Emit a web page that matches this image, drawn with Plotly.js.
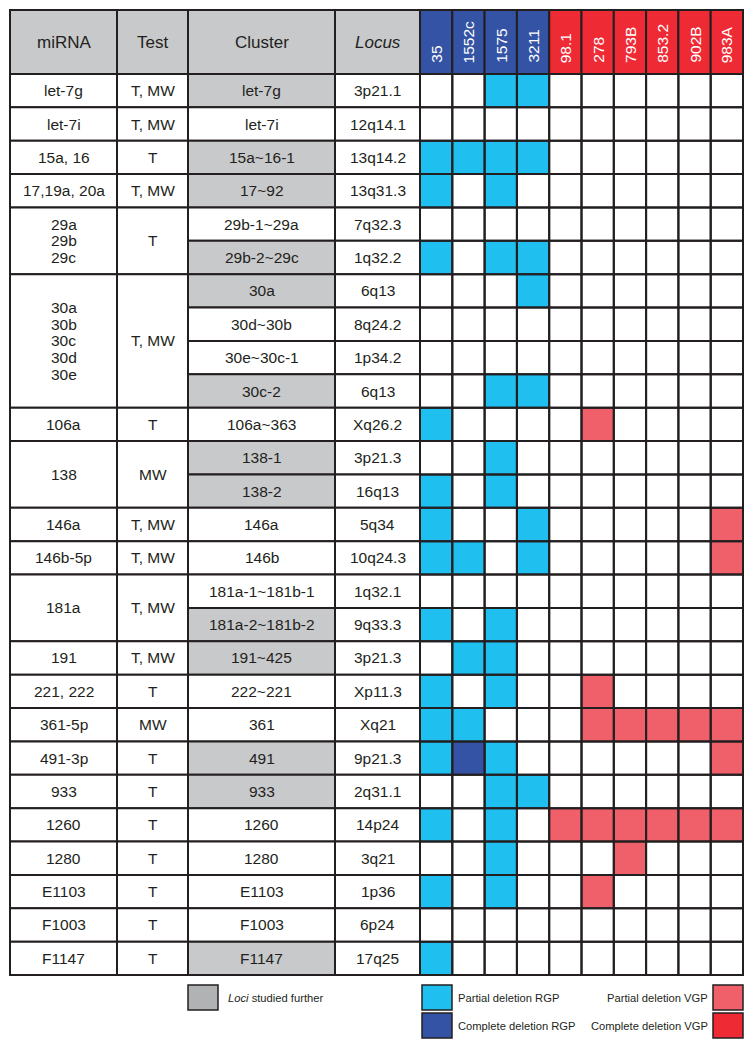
<!DOCTYPE html>
<html><head><meta charset="utf-8">
<script src="https://cdn.plot.ly/plotly-3.0.1.min.js"></script>
<style>html,body{margin:0;padding:0;background:#fff}#chart{width:754px;height:1048px}</style>
</head><body><div id="chart"></div>
<script>
// ---------------- data ----------------
const samples = ['35','1552c','1575','3211','98.1','278','793B','853.2','902B','983A'];
const sampleGroup = ['RGP','RGP','RGP','RGP','VGP','VGP','VGP','VGP','VGP','VGP'];
const headers = ['miRNA','Test','Cluster','<i>Locus</i>'];
const clusters = ['let-7g','let-7i','15a~16-1','17~92','29b-1~29a','29b-2~29c','30a','30d~30b','30e~30c-1','30c-2','106a~363','138-1','138-2','146a','146b','181a-1~181b-1','181a-2~181b-2','191~425','222~221','361','491','933','1260','1280','E1103','F1003','F1147'];
const loci = ['3p21.1','12q14.1','13q14.2','13q31.3','7q32.3','1q32.2','6q13','8q24.2','1p34.2','6q13','Xq26.2','3p21.3','16q13','5q34','10q24.3','1q32.1','9q33.3','3p21.3','Xp11.3','Xq21','9p21.3','2q31.1','14p24','3q21','1p36','6p24','17q25'];
const studiedFurther = [1,0,1,1,0,1,1,0,0,1,0,1,1,0,0,0,1,1,0,0,1,1,0,0,0,0,1];
const mirnaNames = [['let-7g'],['let-7i'],['15a, 16'],['17,19a, 20a'],['29a','29b','29c'],['30a','30b','30c','30d','30e'],['106a'],['138'],['146a'],['146b-5p'],['181a'],['191'],['221, 222'],['361-5p'],['491-3p'],['933'],['1260'],['1280'],['E1103'],['F1003'],['F1147']];
const mirnaRows = [1,1,1,1,2,4,1,2,1,1,2,1,1,1,1,1,1,1,1,1,1];
const tests = ['T, MW','T, MW','T','T, MW','T','T, MW','T','MW','T, MW','T, MW','T, MW','T, MW','T','MW','T','T','T','T','T','T','T'];
// 0 = no deletion, 1 = partial deletion, 2 = complete deletion
const deletion = [
 [0,0,1,1,0,0,0,0,0,0],
 [0,0,0,0,0,0,0,0,0,0],
 [1,1,1,1,0,0,0,0,0,0],
 [1,0,1,0,0,0,0,0,0,0],
 [0,0,0,0,0,0,0,0,0,0],
 [1,0,1,1,0,0,0,0,0,0],
 [0,0,0,1,0,0,0,0,0,0],
 [0,0,0,0,0,0,0,0,0,0],
 [0,0,0,0,0,0,0,0,0,0],
 [0,0,1,1,0,0,0,0,0,0],
 [1,0,0,0,0,1,0,0,0,0],
 [0,0,1,0,0,0,0,0,0,0],
 [1,0,1,0,0,0,0,0,0,0],
 [1,0,0,1,0,0,0,0,0,1],
 [1,1,0,1,0,0,0,0,0,1],
 [0,0,0,0,0,0,0,0,0,0],
 [1,0,1,0,0,0,0,0,0,0],
 [0,1,1,0,0,0,0,0,0,0],
 [1,0,1,0,0,1,0,0,0,0],
 [1,1,0,0,0,1,1,1,1,1],
 [1,2,1,0,0,0,0,0,0,1],
 [0,0,1,1,0,0,0,0,0,0],
 [1,0,1,0,1,1,1,1,1,1],
 [0,0,1,0,0,0,1,0,0,0],
 [1,0,1,0,0,1,0,0,0,0],
 [0,0,0,0,0,0,0,0,0,0],
 [1,0,0,0,0,0,0,0,0,0]
];
const legendLabels = ['<i>Loci</i> studied further','Partial deletion RGP','Complete deletion RGP','Partial deletion VGP','Complete deletion VGP'];

// ---------------- styles / layout constants ----------------
const W = 754, H = 1048;
const TOP = 10, HEAD = 64, NROW = clusters.length, ROWH = (975 - 74) / NROW;
const COLX = [10, 117, 188, 335, 420];
const SW = (743 - 420) / samples.length;
const LINE = '#231f20';
const GREY = '#c8c9cb', LEGGREY = '#b1b2b4';
const HEADCOL = {RGP: '#3453a4', VGP: '#ee2a35'};
const CELLCOL = {RGP: ['#ffffff', '#1fbff0', '#3453a4'], VGP: ['#ffffff', '#f0606b', '#ee2a35']};
const FONT = 'Liberation Sans, Arial, Helvetica, sans-serif';
const BODY = 15.5, HEADF = 17, SAMPF = 15.5, LEGF = 11.2;

const rowTop = i => TOP + HEAD + i * ROWH;
const sampX = j => COLX[4] + j * SW;

const shapes = [], ann = [];
function rect(x0, x1, y0, y1, fill, layer) {
  shapes.push({type: 'rect', xref: 'x', yref: 'y', x0, x1, y0, y1, fillcolor: fill,
    line: {color: LINE, width: 2}, layer: layer || 'below'});
}
function text(x, y, t, size, opts) {
  ann.push(Object.assign({x, y, xref: 'x', yref: 'y', text: t, showarrow: false,
    font: {family: FONT, size, color: LINE}, xanchor: 'center', yanchor: 'middle', borderpad: 0}, opts || {}));
}

// header
headers.forEach((h, c) => {
  rect(COLX[c], COLX[c + 1], TOP, TOP + HEAD, GREY);
  text((COLX[c] + COLX[c + 1]) / 2, TOP + HEAD / 2, h, HEADF);
});
samples.forEach((s, j) => {
  rect(sampX(j), sampX(j + 1), TOP, TOP + HEAD, HEADCOL[sampleGroup[j]]);
  text(sampX(j + 0.5), TOP + HEAD - 10, s, SAMPF, {textangle: -90, yanchor: 'bottom', font: {family: FONT, size: SAMPF, color: '#ffffff'}});
});

// miRNA + Test merged cells
let r = 0;
mirnaNames.forEach((names, g) => {
  const y0 = rowTop(r), y1 = rowTop(r + mirnaRows[g]), yc = (y0 + y1) / 2;
  rect(COLX[0], COLX[1], y0, y1, '#ffffff');
  rect(COLX[1], COLX[2], y0, y1, '#ffffff');
  const LS = 16.7;
  names.forEach((n, k) => text((COLX[0] + COLX[1]) / 2, yc + (k - (names.length - 1) / 2) * LS, n, BODY));
  text((COLX[1] + COLX[2]) / 2, yc, tests[g], BODY);
  r += mirnaRows[g];
});

// cluster + locus
clusters.forEach((c, i) => {
  const y0 = rowTop(i), y1 = rowTop(i + 1);
  rect(COLX[2], COLX[3], y0, y1, studiedFurther[i] ? GREY : '#ffffff');
  rect(COLX[3], COLX[4], y0, y1, '#ffffff');
  text((COLX[2] + COLX[3]) / 2, (y0 + y1) / 2, c, BODY);
  text((COLX[3] + COLX[4]) / 2, (y0 + y1) / 2, loci[i], BODY);
  samples.forEach((s, j) => rect(sampX(j), sampX(j + 1), y0, y1, 'rgba(0,0,0,0)', 'above'));
});

// deletion heatmap
const codeOf = (v, j) => v === 0 ? 0 : (sampleGroup[j] === 'RGP' ? v : v + 2);
const z = deletion.map(row => row.map((v, j) => codeOf(v, j)));
const cols = ['#ffffff', CELLCOL.RGP[1], CELLCOL.RGP[2], CELLCOL.VGP[1], CELLCOL.VGP[2]];
const cs = [];
cols.forEach((c, k) => { cs.push([k / 5, c]); cs.push([(k + 1) / 5, c]); });
const heat = {
  type: 'heatmap', z, x: samples.map((s, j) => sampX(j + 0.5)), y: clusters.map((c, i) => rowTop(i + 0.5)),
  zmin: -0.5, zmax: 4.5, colorscale: cs, showscale: false, hoverinfo: 'skip'
};

// legend
const legend = [
  {label: legendLabels[0], color: LEGGREY, bx: 188, by: 985, tx: 227, anchor: 'left'},
  {label: legendLabels[1], color: CELLCOL.RGP[1], bx: 422, by: 985, tx: 457, anchor: 'left'},
  {label: legendLabels[2], color: CELLCOL.RGP[2], bx: 422, by: 1013, tx: 457, anchor: 'left'},
  {label: legendLabels[3], color: CELLCOL.VGP[1], bx: 713, by: 985, tx: 709, anchor: 'right'},
  {label: legendLabels[4], color: CELLCOL.VGP[2], bx: 713, by: 1013, tx: 709, anchor: 'right'}
];
legend.forEach(l => {
  shapes.push({type: 'rect', xref: 'x', yref: 'y', x0: l.bx, x1: l.bx + 30, y0: l.by, y1: l.by + 25,
    fillcolor: l.color, line: {color: LINE, width: 1.5}});
  text(l.tx, l.by + 12.5, l.label, LEGF, {xanchor: l.anchor});
});

const layout = {
  width: W, height: H, margin: {l: 0, r: 0, t: 0, b: 0, pad: 0},
  paper_bgcolor: '#ffffff', plot_bgcolor: '#ffffff',
  xaxis: {range: [0, W], visible: false, fixedrange: true},
  yaxis: {range: [H, 0], visible: false, fixedrange: true},
  shapes, annotations: ann, showlegend: false
};
Plotly.newPlot('chart', [heat], layout, {staticPlot: true, displayModeBar: false});
</script></body></html>
